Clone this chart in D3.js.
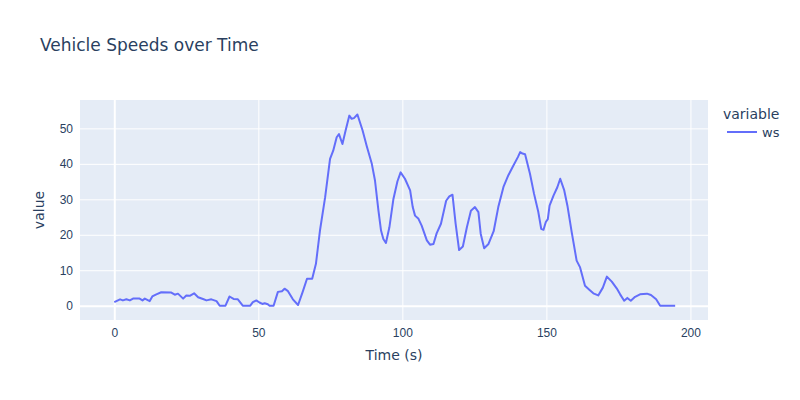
<!DOCTYPE html>
<html>
<head>
<meta charset="utf-8">
<script src="https://cdn.jsdelivr.net/npm/d3@7"></script>
<style>
  body { margin: 0; background: #fff; }
  svg { display: block; font-family: "DejaVu Sans", Verdana, Arial, sans-serif; }
</style>
</head>
<body>
<svg id="chart" width="800" height="400"></svg>
<script>
const times = [0,2,3,4.2,5.4,6.5,8.8,9.8,10.6,12.3,13.2,14.6,16.3,19.8,21,22.1,23.9,25,26.2,27.7,29.1,30.8,32,33.7,35.5,36.6,38.6,40,41.4,42.9,44.6,47.2,48.1,49.3,50.4,51.4,52.2,53.3,53.9,55.3,56.8,58.2,59.1,60.3,62,63.8,65.4,66.9,68.7,70,71.4,73.2,74.9,76,77.2,78,79.2,80.3,81.6,82.4,83.2,84.4,86.2,87.6,89.4,90.5,91.7,92.6,93.4,94.3,95.5,96.9,98.3,99.4,100.9,102.7,103.6,104.4,105.6,106.7,108.5,109.6,110.8,111.9,113.4,115.2,116.3,117.4,118.5,119.7,121,122.4,123.8,125.2,126.4,127.2,128.4,129.9,131.7,133.3,135.1,136.8,138.6,140.1,140.9,141.7,142.6,144.3,145.7,147.2,148.2,149,149.8,150.5,151.1,152.5,153.8,154.8,156.2,157.3,158.8,160.5,161.7,163.4,164.9,166.3,168,169.6,171,172.7,174.4,175.6,177,178.1,179.3,180.8,182.5,184.9,186.3,188.1,189.5,194.7];
const wsValues = [1.0,1.8,1.5,1.8,1.5,2.0,2.0,1.5,2.0,1.3,2.6,3.2,3.8,3.7,3.1,3.4,2.0,2.9,2.8,3.5,2.4,1.9,1.5,1.8,1.3,0,0,2.6,1.9,1.8,0,0,1.0,1.5,0.9,0.5,0.7,0.4,0,0,3.9,4.1,4.8,4.1,1.8,0.2,3.9,7.6,7.6,11.8,21.2,30.6,41.4,43.7,47.5,48.4,45.6,49.4,53.6,52.7,52.9,53.9,49.4,45.1,40,35.3,26.8,21.2,18.8,17.7,22.1,30.1,35.1,37.6,35.8,32.5,27.8,25.4,24.5,22.6,18.4,17.2,17.4,20.4,23.1,29.6,30.8,31.3,23.1,15.7,16.7,22.1,26.8,27.8,26.4,20.3,16.2,17.4,21,27.8,33.5,36.8,39.6,41.9,43.3,42.9,42.7,37.2,31.6,26.4,21.7,21.4,23.6,24.4,28.2,31.1,33.4,35.8,32.5,28.2,20.7,12.7,10.8,5.6,4.5,3.5,2.9,5.1,8.2,6.8,4.9,3.2,1.4,2.2,1.4,2.5,3.2,3.4,3.0,1.8,0,0];
const xTicks = [0, 50, 100, 150, 200];
const yTicks = [0, 10, 20, 30, 40, 50];
const seriesName = "ws";
const legendTitle = "variable";
const chartTitle = "Vehicle Speeds over Time";
const xLabel = "Time (s)";
const yLabel = "value";

const svg = d3.select("#chart");
const W = 800, H = 400;
const m = { left: 80, right: 92, top: 100, bottom: 80 };
const pw = W - m.left - m.right, ph = H - m.top - m.bottom;
const textColor = "#2a3f5f";

const x = d3.scaleLinear().domain([-11.9, 206.1]).range([m.left, m.left + pw]);
const y = d3.scaleLinear().domain([-4.03, 58.0]).range([m.top + ph, m.top]);

svg.append("rect").attr("x", m.left).attr("y", m.top).attr("width", pw).attr("height", ph).attr("fill", "#e5ecf6");

// grid
const gx = svg.append("g").attr("transform", `translate(0,${m.top + ph})`)
  .call(d3.axisBottom(x).tickValues(xTicks).tickSize(-ph).tickFormat(""));
gx.select(".domain").remove();
gx.selectAll("line").attr("stroke", "#fff").attr("stroke-width", d => d === 0 ? 2 : 1);

const gy = svg.append("g").attr("transform", `translate(${m.left},0)`)
  .call(d3.axisLeft(y).tickValues(yTicks).tickSize(-pw).tickFormat(""));
gy.select(".domain").remove();
gy.selectAll("line").attr("stroke", "#fff").attr("stroke-width", d => d === 0 ? 2 : 1);

// tick labels
const xl = svg.append("g").attr("transform", `translate(0,${m.top + ph})`)
  .call(d3.axisBottom(x).tickValues(xTicks).tickSize(0).tickPadding(8));
xl.select(".domain").remove();
xl.selectAll("text").attr("fill", textColor).attr("font-size", 12).attr("font-family", null);

const yl = svg.append("g").attr("transform", `translate(${m.left},0)`)
  .call(d3.axisLeft(y).tickValues(yTicks).tickSize(0).tickPadding(7));
yl.select(".domain").remove();
yl.selectAll("text").attr("fill", textColor).attr("font-size", 12).attr("font-family", null);

// line
const pts = times.map((t, i) => [t, wsValues[i]]);
svg.append("path").datum(pts)
  .attr("fill", "none").attr("stroke", "#636efa").attr("stroke-width", 2)
  .attr("stroke-linejoin", "round")
  .attr("d", d3.line().x(d => x(d[0])).y(d => y(d[1])));

// titles
svg.append("text").attr("x", 40).attr("y", 51).attr("fill", textColor).attr("font-size", 17).text(chartTitle);
svg.append("text").attr("x", m.left + pw / 2).attr("y", 360).attr("text-anchor", "middle")
  .attr("fill", textColor).attr("font-size", 14).text(xLabel);
svg.append("text").attr("transform", `translate(44,${m.top + ph / 2}) rotate(-90)`).attr("text-anchor", "middle")
  .attr("fill", textColor).attr("font-size", 14).text(yLabel);

// legend
svg.append("text").attr("x", 723).attr("y", 119).attr("fill", textColor).attr("font-size", 14).text(legendTitle);
svg.append("line").attr("x1", 727).attr("x2", 757).attr("y1", 132).attr("y2", 132)
  .attr("stroke", "#636efa").attr("stroke-width", 2);
svg.append("text").attr("x", 762).attr("y", 136.5).attr("fill", textColor).attr("font-size", 13).text(seriesName);
</script>
</body>
</html>
